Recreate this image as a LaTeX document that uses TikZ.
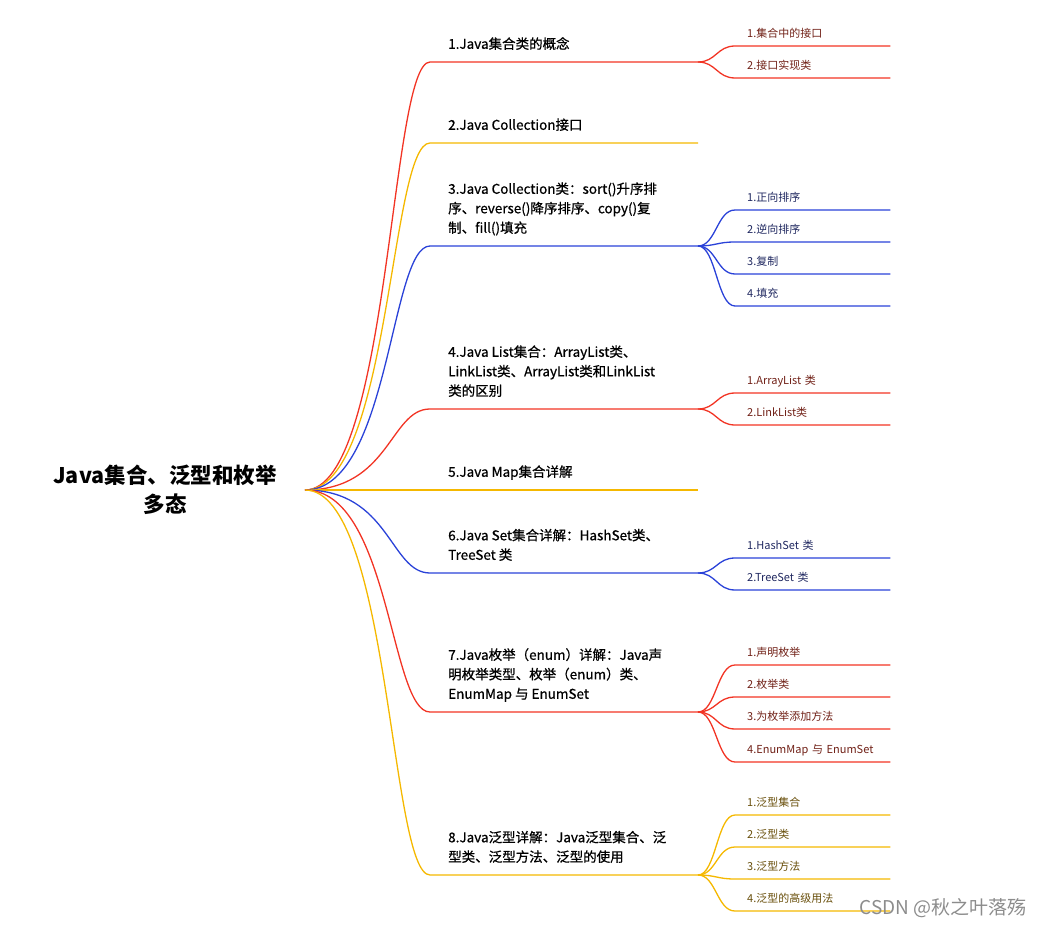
\documentclass[tikz,border=0pt]{standalone}
\usepackage{fontspec}
\setmainfont{Noto Sans CJK SC}
\newfontfamily\semifont[FakeBold=0.7]{Noto Sans CJK SC}
\usetikzlibrary{positioning}

\definecolor{mred}{RGB}{242,52,36}
\definecolor{myel}{RGB}{245,184,0}
\definecolor{mblue}{RGB}{42,66,216}
\definecolor{tred}{RGB}{112,32,22}
\definecolor{tblue}{RGB}{32,40,96}
\definecolor{tyel}{RGB}{104,78,10}

\begin{document}
\begin{tikzpicture}[
          x=1pt, y=-1pt,
          wire/.style={line width=1.3pt},
          rootnode/.style={align=center, inner sep=0pt,
                      font=\bfseries\fontsize{21.5}{29}\selectfont},
          main/.style={align=left, inner sep=0pt, text depth=0pt,
                      font=\semifont\fontsize{13.5}{19.5}\selectfont},
          leaf/.style={anchor=south west, align=left, text width=131pt,
                      inner xsep=12pt, inner ysep=8.5pt, text depth=0pt,
                      font=\fontsize{11}{12}\selectfont}
        ]
        \useasboundingbox (0,0) rectangle (1044,928);
        \node[rootnode] (root) at (165,490) {Java集合、泛型和枚举\\多态};
        \coordinate (hub) at (305,490);
        % main branches
        \coordinate (b1s) at (430,62);  \coordinate (b1e) at (698,62);
        \coordinate (b2s) at (430,143); \coordinate (b2e) at (698,143);
        \coordinate (b3s) at (430,246); \coordinate (b3e) at (698,246);
        \coordinate (b4s) at (430,409); \coordinate (b4e) at (698,409);
        \coordinate (b5s) at (430,490); \coordinate (b5e) at (698,490);
        \coordinate (b6s) at (430,573); \coordinate (b6e) at (698,573);
        \coordinate (b7s) at (430,712); \coordinate (b7e) at (698,712);
        \coordinate (b8s) at (430,875); \coordinate (b8e) at (698,875);
        \node[main, above right=13pt and 18pt of b1s] (t1) {1.Java集合类的概念};
        \node[main, above right=13pt and 18pt of b2s] (t2) {2.Java Collection接口};
        \node[main, above right=13pt and 18pt of b3s] (t3) {3.Java Collection类：sort()升序排\\序、reverse()降序排序、copy()复\\制、fill()填充};
        \node[main, above right=13pt and 18pt of b4s] (t4) {4.Java List集合：ArrayList类、\\LinkList类、ArrayList类和LinkList\\类的区别};
        \node[main, above right=13pt and 18pt of b5s] (t5) {5.Java Map集合详解};
        \node[main, above right=13pt and 18pt of b6s] (t6) {6.Java Set集合详解：HashSet类、\\TreeSet 类};
        \node[main, above right=13pt and 18pt of b7s] (t7) {7.Java枚举（enum）详解：Java声\\明枚举类型、枚举（enum）类、\\EnumMap 与 EnumSet};
        \node[main, above right=13pt and 18pt of b8s] (t8) {8.Java泛型详解：Java泛型集合、泛\\型类、泛型方法、泛型的使用};
        \draw[wire, mred] (hub) .. controls +(85,0) and +(-40,0) .. (b1s) -- (b1e);
        \draw[wire, myel] (hub) .. controls +(85,0) and +(-40,0) .. (b2s) -- (b2e);
        \draw[wire, mblue] (hub) .. controls +(85,0) and +(-40,0) .. (b3s) -- (b3e);
        \draw[wire, mred] (hub) .. controls +(85,0) and +(-40,0) .. (b4s) -- (b4e);
        \draw[wire, myel] (hub) -- (b5s) -- (b5e);
        \draw[wire, mblue] (hub) .. controls +(85,0) and +(-40,0) .. (b6s) -- (b6e);
        \draw[wire, mred] (hub) .. controls +(85,0) and +(-40,0) .. (b7s) -- (b7e);
        \draw[wire, myel] (hub) .. controls +(85,0) and +(-40,0) .. (b8s) -- (b8e);
        % leaves
        \node[leaf, text=tred] (l11) at (735,46) {1.集合中的接口};
        \node[leaf, text=tred] (l12) at (735,78) {2.接口实现类};
        \node[leaf, text=tblue] (l31) at (735,210) {1.正向排序};
        \node[leaf, text=tblue] (l32) at (735,242) {2.逆向排序};
        \node[leaf, text=tblue] (l33) at (735,274) {3.复制};
        \node[leaf, text=tblue] (l34) at (735,306) {4.填充};
        \node[leaf, text=tred] (l41) at (735,393) {1.ArrayList 类};
        \node[leaf, text=tred] (l42) at (735,425) {2.LinkList类};
        \node[leaf, text=tblue] (l61) at (735,558) {1.HashSet 类};
        \node[leaf, text=tblue] (l62) at (735,590) {2.TreeSet 类};
        \node[leaf, text=tred] (l71) at (735,665) {1.声明枚举};
        \node[leaf, text=tred] (l72) at (735,697) {2.枚举类};
        \node[leaf, text=tred] (l73) at (735,729) {3.为枚举添加方法};
        \node[leaf, text=tred] (l74) at (735,762) {4.EnumMap 与 EnumSet};
        \node[leaf, text=tyel] (l81) at (735,815) {1.泛型集合};
        \node[leaf, text=tyel] (l82) at (735,847) {2.泛型类};
        \node[leaf, text=tyel] (l83) at (735,879) {3.泛型方法};
        \node[leaf, text=tyel] (l84) at (735,911) {4.泛型的高级用法};
        \draw[wire, mred] (b1e) .. controls +(18,0) and +(-18,0) .. (l11.south west) -- (l11.south east);
        \draw[wire, mred] (b1e) .. controls +(18,0) and +(-18,0) .. (l12.south west) -- (l12.south east);
        \draw[wire, mblue] (b3e) .. controls +(18,0) and +(-18,0) .. (l31.south west) -- (l31.south east);
        \draw[wire, mblue] (b3e) .. controls +(18,0) and +(-18,0) .. (l32.south west) -- (l32.south east);
        \draw[wire, mblue] (b3e) .. controls +(18,0) and +(-18,0) .. (l33.south west) -- (l33.south east);
        \draw[wire, mblue] (b3e) .. controls +(18,0) and +(-18,0) .. (l34.south west) -- (l34.south east);
        \draw[wire, mred] (b4e) .. controls +(18,0) and +(-18,0) .. (l41.south west) -- (l41.south east);
        \draw[wire, mred] (b4e) .. controls +(18,0) and +(-18,0) .. (l42.south west) -- (l42.south east);
        \draw[wire, mblue] (b6e) .. controls +(18,0) and +(-18,0) .. (l61.south west) -- (l61.south east);
        \draw[wire, mblue] (b6e) .. controls +(18,0) and +(-18,0) .. (l62.south west) -- (l62.south east);
        \draw[wire, mred] (b7e) .. controls +(18,0) and +(-18,0) .. (l71.south west) -- (l71.south east);
        \draw[wire, mred] (b7e) .. controls +(18,0) and +(-18,0) .. (l72.south west) -- (l72.south east);
        \draw[wire, mred] (b7e) .. controls +(18,0) and +(-18,0) .. (l73.south west) -- (l73.south east);
        \draw[wire, mred] (b7e) .. controls +(18,0) and +(-18,0) .. (l74.south west) -- (l74.south east);
        \draw[wire, myel] (b8e) .. controls +(18,0) and +(-18,0) .. (l81.south west) -- (l81.south east);
        \draw[wire, myel] (b8e) .. controls +(18,0) and +(-18,0) .. (l82.south west) -- (l82.south east);
        \draw[wire, myel] (b8e) .. controls +(18,0) and +(-18,0) .. (l83.south west) -- (l83.south east);
        \draw[wire, myel] (b8e) .. controls +(18,0) and +(-18,0) .. (l84.south west) -- (l84.south east);
        \node[text=black!45, font=\fontsize{19}{22}\selectfont] (mark) at (943,908) {CSDN @秋之叶落殇};
      \end{tikzpicture}
\end{document}
